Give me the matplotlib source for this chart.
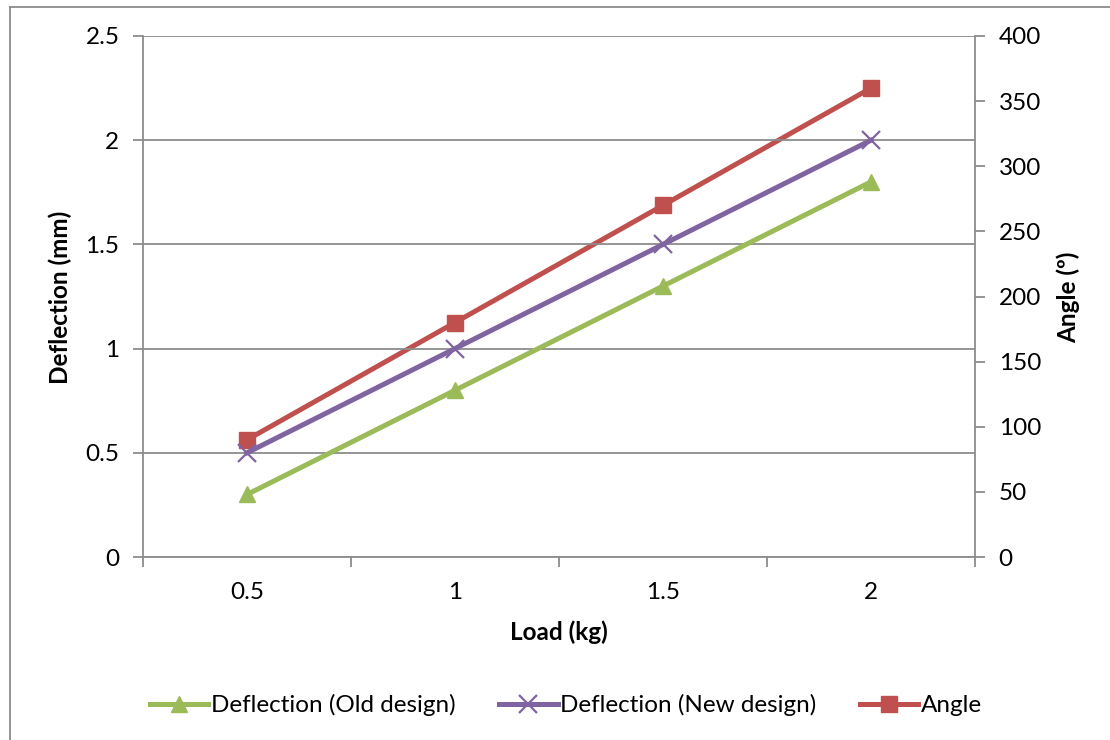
import matplotlib
matplotlib.use("Agg")
import matplotlib.pyplot as plt
from matplotlib.lines import Line2D

# data
loads = ["0.5", "1", "1.5", "2"]
defl_old = [0.3, 0.8, 1.3, 1.8]
defl_new = [0.5, 1.0, 1.5, 2.0]
angle = [90, 180, 270, 360]

FS = 17.5
plt.rcParams.update({
    'font.family': ['Lato', 'DejaVu Sans'],
    'font.size': FS,
})

GRID = '#8c8c8c'
GREEN = '#9bbb59'
PURPLE = '#8064a2'
RED = '#c0504d'

fig = plt.figure(figsize=[11.1, 7.4], dpi=100)
ax = fig.add_axes([143/1110., 1-557/740., (975-143)/1110., (557-36)/740.])
ax2 = ax.twinx()

x = [i + 0.5 for i in range(len(loads))]

l1, = ax.plot(x, defl_old, color=GREEN, lw=3.6, marker='^', ms=12, label='Deflection (Old design)')
l2, = ax.plot(x, defl_new, color=PURPLE, lw=3.6, marker='x', ms=13, mew=1.6, label='Deflection (New design)')
l3, = ax2.plot(x, angle, color=RED, lw=3.6, marker='s', ms=12, label='Angle')

ax.set_xlim(0, 4)
ax.set_ylim(0, 2.5)
ax2.set_ylim(0, 400)
ax.set_yticks([0, 0.5, 1, 1.5, 2, 2.5])
ax.set_yticklabels(['0', '0.5', '1', '1.5', '2', '2.5'])
ax2.set_yticks(range(0, 401, 50))
ax.set_xticks([0, 1, 2, 3, 4])
ax.set_xticklabels([])
ax.set_xticks(x, minor=True)
ax.set_xticklabels(loads, minor=True)
ax.tick_params(axis='x', which='minor', length=0, pad=18)
ax.tick_params(axis='x', which='major', length=7, color=GRID, width=1.3)
ax.tick_params(axis='y', length=7, color=GRID, width=1.3, pad=10)
ax2.tick_params(axis='y', length=7, color=GRID, width=1.3, pad=10)

ax.grid(True, axis='y', color=GRID, lw=1.3)
ax.set_axisbelow(True)
for a in (ax, ax2):
    for s in a.spines.values():
        s.set_visible(False)
for s in (ax.spines['left'], ax.spines['bottom'], ax2.spines['right']):
    s.set_visible(True)
    s.set_color(GRID)
    s.set_linewidth(1.3)

ax.set_zorder(ax2.get_zorder() + 1)
ax.patch.set_visible(False)

fig.text(60/1110., 1-297/740., 'Deflection (mm)', rotation=90, ha='center', va='center',
         fontweight='bold', fontsize=FS)
fig.text(1068/1110., 1-297/740., 'Angle (º)', rotation=90, ha='center', va='center',
         fontweight='bold', fontsize=FS)
fig.text(559/1110., 1-632/740., 'Load (kg)', ha='center', va='center',
         fontweight='bold', fontsize=FS)

fig.legend([l1, l2, l3], [l1.get_label(), l2.get_label(), l3.get_label()],
           loc='center', bbox_to_anchor=(566/1110., 1-705/740.), ncol=3, frameon=False,
           handlelength=2.4, handletextpad=0.1, columnspacing=1.8, fontsize=FS)

# chart border
fig.add_artist(Line2D([10/1110., 10/1110.], [0, 1-7/740.], color=GRID, lw=1.3, transform=fig.transFigure))
fig.add_artist(Line2D([10/1110., 1], [1-7/740., 1-7/740.], color=GRID, lw=1.3, transform=fig.transFigure))

plt.savefig('out.png', dpi=100)
